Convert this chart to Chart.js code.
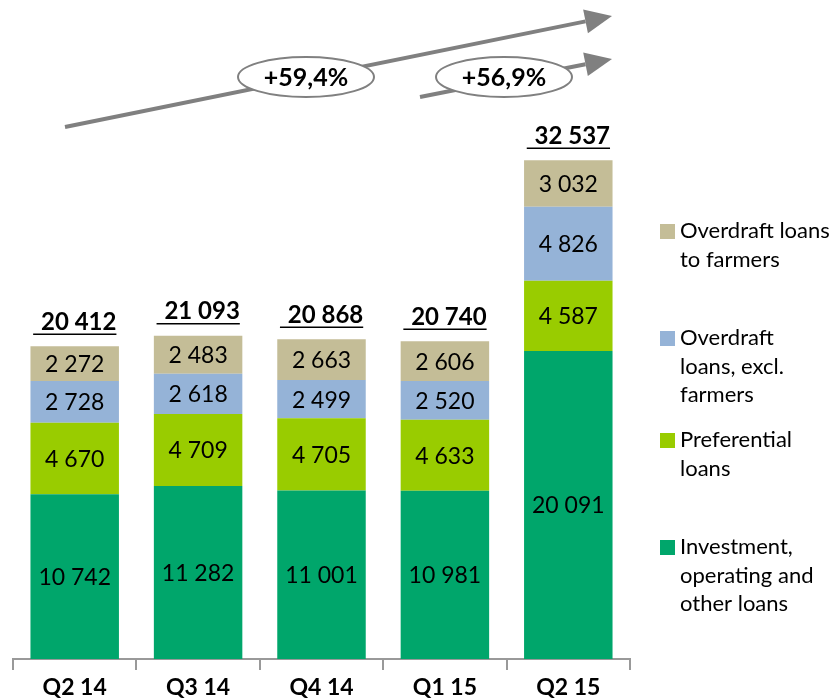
<!DOCTYPE html>
<html>
<head>
<meta charset="utf-8">
<script src="https://cdn.jsdelivr.net/npm/chart.js@4/dist/chart.umd.min.js"></script>
<style>
    html, body { margin: 0; padding: 0; background: #fff; }
    #wrap { width: 835px; height: 698px; position: relative; }
</style>
</head>
<body>
<div id="wrap"><canvas id="loansChart"></canvas></div>
<script>
// --- Data ---
const categories = ['Q2 14', 'Q3 14', 'Q4 14', 'Q1 15', 'Q2 15'];
const investmentLoans = [10742, 11282, 11001, 10981, 20091];
const preferentialLoans = [4670, 4709, 4705, 4633, 4587];
const overdraftExclFarmers = [2728, 2618, 2499, 2520, 4826];
const overdraftFarmers = [2272, 2483, 2663, 2606, 3032];
const totals = [20412, 21093, 20868, 20740, 32537];
const growthLabels = ['+59,4%', '+56,9%'];

const FONT = 'Lato, "Open Sans", sans-serif';

// 20412 -> "20 412"
function fmt(n) {
    return String(n).replace(/\B(?=(\d{3})+(?!\d))/g, ' ');
}

// --- Plugins ---
const segmentLabels = {
    id: 'segmentLabels',
    afterDatasetsDraw(chart) {
        const ctx = chart.ctx;
        ctx.save();
        ctx.font = '23px ' + FONT;
        ctx.fillStyle = '#000';
        ctx.textAlign = 'center';
        ctx.textBaseline = 'middle';
        chart.data.datasets.forEach((ds, i) => {
            const meta = chart.getDatasetMeta(i);
            meta.data.forEach((bar, j) => {
                ctx.fillText(fmt(ds.data[j]), bar.x, (bar.y + bar.base) / 2 + 1);
            });
        });

        // totals, underlined, above each stack
        const top = chart.getDatasetMeta(chart.data.datasets.length - 1);
        ctx.font = 'bold 24px ' + FONT;
        ctx.textAlign = 'left';
        ctx.strokeStyle = '#000';
        ctx.lineWidth = 1.5;
        top.data.forEach((bar, j) => {
            const txt = fmt(totals[j]);
            const w = ctx.measureText(txt).width;
            const space = ctx.measureText(' ').width;
            const x = bar.x - w / 2 + 4;
            const y = bar.y - 24;
            ctx.fillText(txt, x, y);
            ctx.beginPath();
            ctx.moveTo(x - space - 2, y + 12);
            ctx.lineTo(x + w, y + 12);
            ctx.stroke();
        });
        ctx.restore();
    }
};

const growthArrows = {
    id: 'growthArrows',
    afterDraw(chart) {
        const ctx = chart.ctx;
        const gray = '#808080';

        function arrow(x1, y1, x2, y2) {
            const ang = Math.atan2(y2 - y1, x2 - x1);
            const len = 27, half = 12;
            const bx = x2 - len * Math.cos(ang);
            const by = y2 - len * Math.sin(ang);
            ctx.strokeStyle = gray;
            ctx.lineWidth = 4;
            ctx.beginPath();
            ctx.moveTo(x1, y1);
            ctx.lineTo(bx, by);
            ctx.stroke();
            ctx.fillStyle = gray;
            ctx.beginPath();
            ctx.moveTo(x2, y2);
            ctx.lineTo(bx + half * Math.sin(ang), by - half * Math.cos(ang));
            ctx.lineTo(bx - half * Math.sin(ang), by + half * Math.cos(ang));
            ctx.closePath();
            ctx.fill();
        }

        function bubble(cx, cy, txt) {
            ctx.fillStyle = '#fff';
            ctx.strokeStyle = gray;
            ctx.lineWidth = 2;
            ctx.beginPath();
            ctx.ellipse(cx, cy, 68, 20, 0, 0, Math.PI * 2);
            ctx.fill();
            ctx.stroke();
            ctx.fillStyle = '#000';
            ctx.font = 'bold 25px ' + FONT;
            ctx.textAlign = 'center';
            ctx.textBaseline = 'middle';
            ctx.fillText(txt, cx, cy + 1);
        }

        ctx.save();
        arrow(65, 127, 612, 16);
        arrow(420, 97, 612, 59);
        bubble(306, 77, growthLabels[0]);
        bubble(504, 77, growthLabels[1]);
        ctx.restore();
    }
};

const sideLegend = {
    id: 'sideLegend',
    afterDraw(chart) {
        const ctx = chart.ctx;
        const rows = [231, 338, 440, 547];
        const lineH = 28.5;
        ctx.save();
        ctx.font = '22px ' + FONT;
        ctx.textAlign = 'left';
        ctx.textBaseline = 'middle';
        // legend lists the top segment first
        const n = chart.data.datasets.length;
        for (let k = 0; k < n; k++) {
            const ds = chart.data.datasets[n - 1 - k];
            const y = rows[k];
            ctx.fillStyle = ds.backgroundColor;
            ctx.fillRect(660, y - 7, 15, 15);
            ctx.fillStyle = '#000';
            ds.legendLines.forEach((line, li) => {
                ctx.fillText(line, 680, y + li * lineH);
            });
        }
        ctx.restore();
    }
};

// --- Chart ---
new Chart(document.getElementById('loansChart'), {
    type: 'bar',
    data: {
        labels: categories,
        datasets: [
            {
                label: 'Investment, operating and other loans',
                legendLines: ['Investment,', 'operating and', 'other loans'],
                data: investmentLoans,
                backgroundColor: '#00A66B'
            },
            {
                label: 'Preferential loans',
                legendLines: ['Preferential', 'loans'],
                data: preferentialLoans,
                backgroundColor: '#99CC00'
            },
            {
                label: 'Overdraft loans, excl. farmers',
                legendLines: ['Overdraft', 'loans, excl.', 'farmers'],
                data: overdraftExclFarmers,
                backgroundColor: '#95B3D7'
            },
            {
                label: 'Overdraft loans to farmers',
                legendLines: ['Overdraft loans', 'to farmers'],
                data: overdraftFarmers,
                backgroundColor: '#C4BD97'
            }
        ]
    },
    options: {
        responsive: true,
        maintainAspectRatio: false,
        animation: false,
        layout: { padding: { left: 13, right: 205, top: 0, bottom: 0 } },
        datasets: {
            bar: { categoryPercentage: 1, barPercentage: 0.717, borderWidth: 0 }
        },
        plugins: {
            legend: { display: false },
            tooltip: { enabled: false }
        },
        scales: {
            x: {
                stacked: true,
                // keep the axis line at the same height as the reference
                afterFit: (scale) => { scale.height = 39; },
                grid: {
                    offset: true,
                    drawOnChartArea: false,
                    color: '#999',
                    lineWidth: 2,
                    tickLength: 11
                },
                border: { color: '#999', width: 2 },
                ticks: {
                    color: '#000',
                    padding: 6,
                    font: { family: FONT, size: 23, weight: 'bold', lineHeight: 1.0 }
                }
            },
            y: {
                stacked: true,
                display: false,
                min: 0,
                max: 43000
            }
        }
    },
    plugins: [segmentLabels, growthArrows, sideLegend]
});
</script>
</body>
</html>
